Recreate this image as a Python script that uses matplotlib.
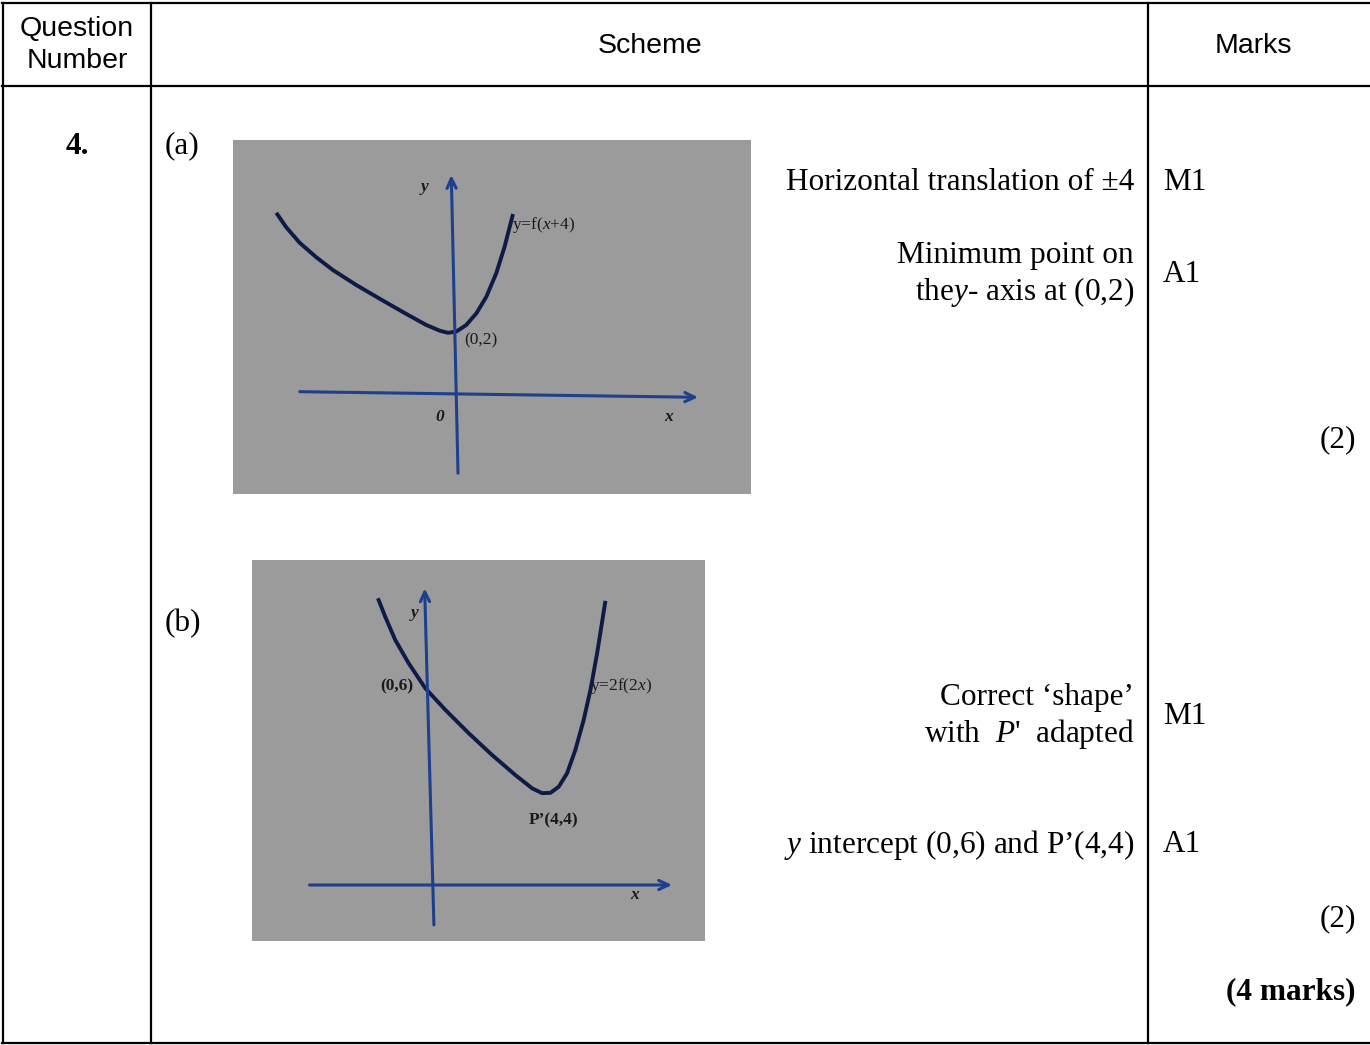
import matplotlib
matplotlib.use("Agg")
import matplotlib.pyplot as plt

plt.rcParams['mathtext.fontset'] = 'custom'
plt.rcParams['mathtext.rm'] = 'Liberation Serif'
plt.rcParams['mathtext.it'] = 'Liberation Serif:italic'
plt.rcParams['mathtext.bf'] = 'Liberation Serif:bold'

# ---------------- data ----------------
headers = ["Question\nNumber", "Scheme", "Marks"]
question = "4."
parts = ["(a)", "(b)"]

scheme_a = ["Horizontal translation of \u00b14", "Minimum point on", "the$y$- axis at (0,2)"]
marks_a = ["M1", "A1"]
total_a = "(2)"

scheme_b = ["Correct \u2018shape\u2019", "with  $P$'  adapted", "$y$ intercept (0,6) and P\u2019(4,4)"]
marks_b = ["M1", "A1"]
total_b = "(2)"
total_q = "(4 marks)"

# sketch (a): y = f(x+4), sketch units
curve_a_x = [-5.99, -5.66, -5.21, -4.66, -4.10, -3.32, -2.43, -1.66, -0.99, -0.54,
             -0.27, 0.01, 0.34, 0.68, 1.01, 1.34, 1.62, 1.90]
curve_a_y = [6.04, 5.56, 5.04, 4.56, 4.13, 3.63, 3.11, 2.67, 2.30, 2.11,
             2.04, 2.08, 2.30, 2.69, 3.24, 4.02, 4.91, 6.00]
yaxis_a = [(0.067, -2.64), (-0.157, 7.30)]
xaxis_a = [(-5.21, 0.077), (8.07, -0.11)]

# sketch (b): y = 2f(2x), sketch units
curve_b_x = [-1.69, -1.46, -1.15, -0.73, -0.21, 0.42, 1.15, 1.88, 2.60, 3.13,
             3.44, 3.70, 3.96, 4.22, 4.48, 4.74, 4.95, 5.16, 5.42]
curve_b_y = [8.96, 8.38, 7.66, 6.93, 6.15, 5.47, 4.74, 4.06, 3.44, 3.02,
             2.87, 2.88, 3.07, 3.49, 4.22, 5.16, 6.09, 7.24, 8.88]
yaxis_b = [(0.06, -1.25), (-0.23, 9.27)]
xaxis_b = [(-3.83, 0.0), (7.50, 0.0)]

# ---------------- styles ----------------
W, H = 1370, 1045
SERIF = 'Liberation Serif'
SANS = 'Liberation Sans'
GRAY = '#9b9b9b'
AXBLUE = '#1e3f8c'
CURVE = '#0e1b46'
TXT = '#1a1a1a'

fig = plt.figure(figsize=(W / 100, H / 100), dpi=100)
ax = fig.add_axes([0, 0, 1, 1])
ax.set_xlim(0, W)
ax.set_ylim(H, 0)
ax.axis('off')

# table grid
lw = 1.6
TOP, BOT = 2.5, 1043.3
ax.plot([2, W], [TOP, TOP], color='black', lw=lw, solid_capstyle='projecting')
ax.plot([2, W], [86, 86], color='black', lw=lw)
ax.plot([2, W], [BOT, BOT], color='black', lw=lw, solid_capstyle='projecting')
for vx in (3, 151, 1148.5):
    ax.plot([vx, vx], [TOP, BOT], color='black', lw=lw, solid_capstyle='projecting')

# headers
hfs = 20.5
ax.text(77, 45, headers[0], ha='center', va='center', fontsize=hfs,
        family=SANS, linespacing=1.3)
ax.text(650, 46, headers[1], ha='center', va='center', fontsize=hfs, family=SANS)
ax.text(1253, 46, headers[2], ha='center', va='center', fontsize=hfs, family=SANS)

fs = 22.5
dy = 2
ax.text(77, 144 + dy, question, ha='center', va='center', fontsize=fs, family=SERIF,
        fontweight='bold')
ax.text(165, 144 + dy, parts[0], ha='left', va='center', fontsize=fs, family=SERIF)
ax.text(165, 622 + dy, parts[1], ha='left', va='center', fontsize=fs, family=SERIF)

RX = 1134
ax.text(RX, 181 + dy, scheme_a[0], ha='right', va='center', fontsize=fs, family=SERIF)
ax.text(RX, 254 + dy, scheme_a[1], ha='right', va='center', fontsize=fs, family=SERIF)
ax.text(RX, 290 + dy, scheme_a[2], ha='right', va='center', fontsize=fs, family=SERIF)
ax.text(1163, 181 + dy, marks_a[0], ha='left', va='center', fontsize=fs, family=SERIF)
ax.text(1163, 272 + dy, marks_a[1], ha='left', va='center', fontsize=fs, family=SERIF)
ax.text(1356, 438 + dy, total_a, ha='right', va='center', fontsize=fs, family=SERIF)

ax.text(RX, 695 + dy, scheme_b[0], ha='right', va='center', fontsize=fs, family=SERIF)
ax.text(RX, 732 + dy, scheme_b[1], ha='right', va='center', fontsize=fs, family=SERIF)
ax.text(RX, 843 + dy, scheme_b[2], ha='right', va='center', fontsize=fs, family=SERIF)
ax.text(1163, 714 + dy, marks_b[0], ha='left', va='center', fontsize=fs, family=SERIF)
ax.text(1163, 843 + dy, marks_b[1], ha='left', va='center', fontsize=fs, family=SERIF)
ax.text(1356, 917 + dy, total_b, ha='right', va='center', fontsize=fs, family=SERIF)
ax.text(1356, 990 + dy, total_q, ha='right', va='center', fontsize=fs, family=SERIF,
        fontweight='bold')


def make_inset(px0, py0, px1, py1, ox, oy, unit):
    iax = fig.add_axes([px0 / W, 1 - py1 / H, (px1 - px0) / W, (py1 - py0) / H])
    iax.set_xlim((px0 - ox) / unit, (px1 - ox) / unit)
    iax.set_ylim((oy - py1) / unit, (oy - py0) / unit)
    iax.set_facecolor(GRAY)
    for s in iax.spines.values():
        s.set_visible(False)
    iax.set_xticks([])
    iax.set_yticks([])
    return iax


def arrow(iax, seg):
    (x0, y0), (x1, y1) = seg
    iax.annotate('', xy=(x1, y1), xytext=(x0, y0),
                 arrowprops=dict(arrowstyle='->,head_length=0.7,head_width=0.33',
                                 lw=2.2, color=AXBLUE, shrinkA=0, shrinkB=0))


sk_fs = 12.5

# sketch (a)
axa = make_inset(233, 140, 751, 494, 456, 394, 30.0)
arrow(axa, yaxis_a)
arrow(axa, xaxis_a)
axa.plot(curve_a_x, curve_a_y, color=CURVE, lw=2.8, solid_capstyle='butt',
         solid_joinstyle='round')
axa.text(-1.04, 6.91, 'y', ha='center', va='center', fontsize=sk_fs, family=SERIF,
         style='italic', fontweight='bold', color=TXT)
axa.text(1.88, 5.63, 'y=f($x$+4)', ha='left', va='center', fontsize=sk_fs,
         family=SERIF, color=TXT)
axa.text(0.83, 1.80, '(0,2)', ha='center', va='center', fontsize=sk_fs,
         family=SERIF, color=TXT)
axa.text(-0.54, -0.76, '0', ha='center', va='center', fontsize=sk_fs, family=SERIF,
         style='italic', fontweight='bold', color=TXT)
axa.text(7.07, -0.76, 'x', ha='center', va='center', fontsize=sk_fs, family=SERIF,
         style='italic', fontweight='bold', color=TXT)

# sketch (b)
axb = make_inset(252, 560, 705, 941, 432, 885, 32.0)
arrow(axb, yaxis_b)
arrow(axb, xaxis_b)
axb.plot(curve_b_x, curve_b_y, color=CURVE, lw=2.8, solid_capstyle='butt',
         solid_joinstyle='round')
axb.text(-0.54, 8.51, 'y', ha='center', va='center', fontsize=sk_fs, family=SERIF,
         style='italic', fontweight='bold', color=TXT)
axb.text(-1.09, 6.22, '(0,6)', ha='center', va='center', fontsize=sk_fs,
         family=SERIF, fontweight='bold', color=TXT)
axb.text(4.93, 6.22, 'y=2f(2$x$)', ha='left', va='center', fontsize=sk_fs,
         family=SERIF, color=TXT)
axb.text(3.80, 2.03, 'P\u2019(4,4)', ha='center', va='center', fontsize=sk_fs,
         family=SERIF, fontweight='bold', color=TXT)
axb.text(6.33, -0.31, 'x', ha='center', va='center', fontsize=sk_fs, family=SERIF,
         style='italic', fontweight='bold', color=TXT)

fig.savefig('out.png', dpi=100)
